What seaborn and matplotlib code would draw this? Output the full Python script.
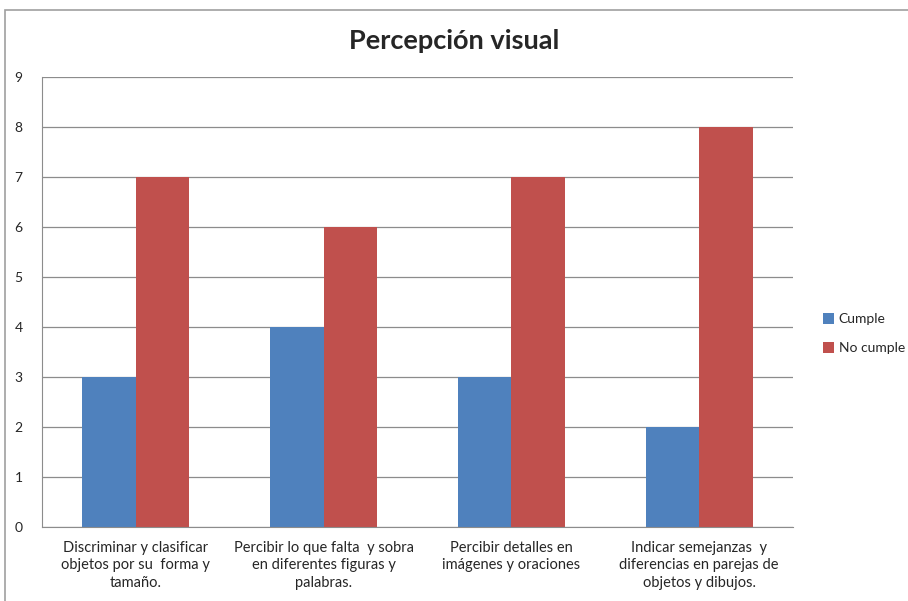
import numpy as np
import pandas as pd
import matplotlib
matplotlib.use("Agg")
import matplotlib.pyplot as plt
import seaborn as sns
from matplotlib.patches import Rectangle

categories = [
    "Discriminar y clasificar\nobjetos por su  forma y\ntamaño.",
    "Percibir lo que falta  y sobra\nen diferentes figuras y\npalabras.",
    "Percibir detalles en\nimágenes y oraciones",
    "Indicar semejanzas  y\ndiferencias en parejas de\nobjetos y dibujos.",
]
cumple = [3, 4, 3, 2]
no_cumple = [7, 6, 7, 8]
series_names = ["Cumple", "No cumple"]
colors = ["#4F81BD", "#C0504D"]

df = pd.DataFrame({
    "categoria": categories * 2,
    "valor": cumple + no_cumple,
    "serie": [series_names[0]] * 4 + [series_names[1]] * 4,
})

sns.set_style("white")
plt.rcParams["font.family"] = ["Lato", "DejaVu Sans"]

fig = plt.figure(figsize=(9.08, 6.01), dpi=100)
ax = fig.add_axes([0.0463, 0.123, 0.8271, 0.749])

sns.barplot(data=df, x="categoria", y="valor", hue="serie", palette=colors,
            width=0.57, saturation=1, linewidth=0, ax=ax, legend=True)

ax.set_ylim(0, 9)
ax.set_yticks(range(0, 10))
ax.yaxis.grid(True, color="#8c8c8c", linewidth=0.9)
ax.set_axisbelow(True)
for side in ["top", "right"]:
    ax.spines[side].set_visible(False)
ax.spines["left"].set_color("#8c8c8c")
ax.spines["bottom"].set_color("#8c8c8c")
ax.tick_params(axis="y", labelsize=10, length=0, pad=14)
ax.tick_params(axis="x", labelsize=10.5, length=0, pad=10)
for lbl in ax.get_xticklabels():
    lbl.set_linespacing(1.3)
ax.set_xlabel("")
ax.set_ylabel("")

ax.legend(loc="center left", bbox_to_anchor=(0.893, 0.445), bbox_transform=fig.transFigure,
          frameon=False, fontsize=10, handlelength=0.8, handleheight=0.8,
          handletextpad=0.3, labelspacing=1.2)

fig.text(0.5, 0.932, "Percepción visual", ha="center", va="center",
         fontsize=19.5, fontweight="bold")

fig.patches.append(Rectangle((0.0055, -0.01), 1.1, 0.993, transform=fig.transFigure,
                             fill=False, edgecolor="#a0a0a0", linewidth=1.2))

fig.savefig("out.png", dpi=100)
